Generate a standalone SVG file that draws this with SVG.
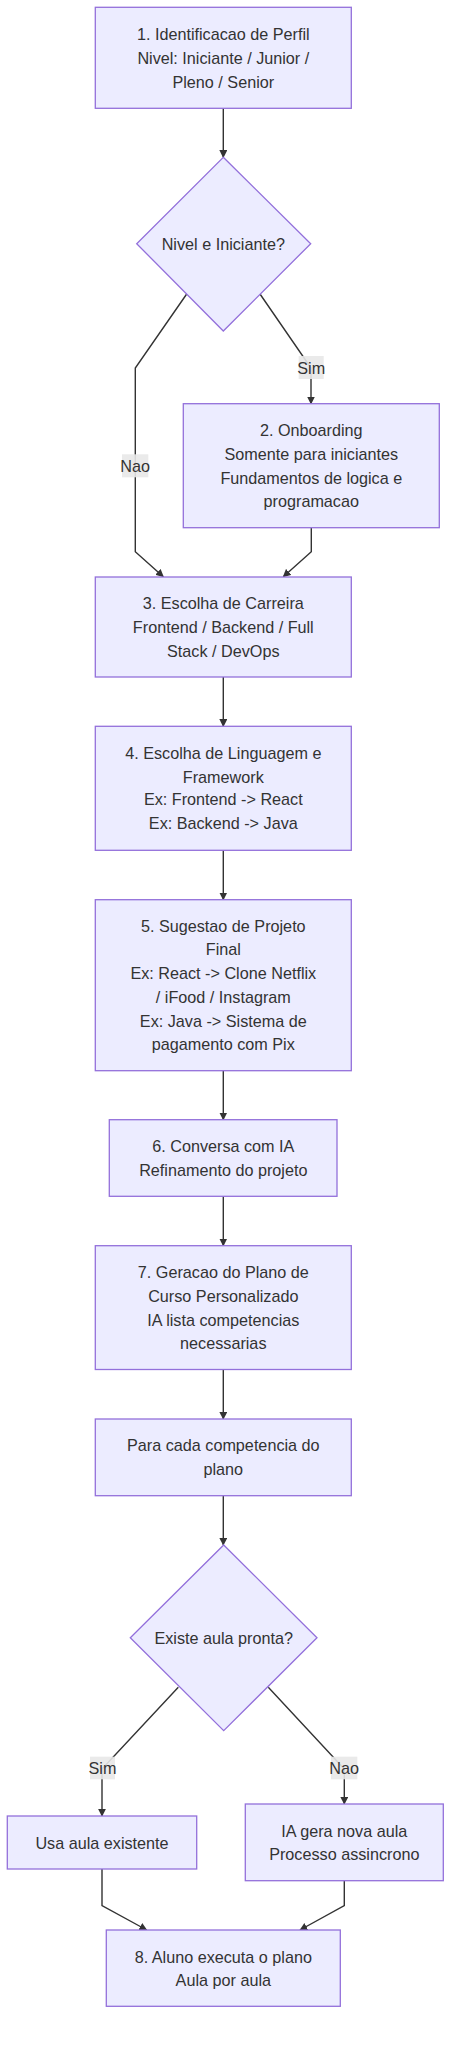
<svg xmlns="http://www.w3.org/2000/svg" width="459" height="2049" viewBox="0 0 459 2049">
<style>
.n{fill:#ECECFF;stroke:#9370DB;stroke-width:1.3}
.t{font-family:"Liberation Sans",Arial,sans-serif;font-size:16.2px;fill:#333;text-anchor:middle;dominant-baseline:central}
.e{fill:none;stroke:#333;stroke-width:1.4}
.lb{fill:#e8e8e8;opacity:0.9}
</style>
<defs>
<marker id="ah" viewBox="0 0 10 10" refX="9" refY="5" markerWidth="8" markerHeight="8" markerUnits="userSpaceOnUse" orient="auto">
<path d="M0,0 L10,5 L0,10 z" fill="#333"/>
</marker>
</defs>
<rect width="459" height="2049" fill="#fff"/>
<g id="connectors">
<path class="e" d="M223.3,108.3 V157.3" marker-end="url(#ah)"/>
<path class="e" d="M186.7,294 L135.3,368 V551.7 L163.3,576.7" marker-end="url(#ah)"/>
<path class="e" d="M260,294 L311,368 V403.7" marker-end="url(#ah)"/>
<path class="e" d="M311.3,527.7 V551.7 L283.3,576.7" marker-end="url(#ah)"/>
<path class="e" d="M223.3,677 V726.3" marker-end="url(#ah)"/>
<path class="e" d="M223.3,850.3 V899.7" marker-end="url(#ah)"/>
<path class="e" d="M223.3,1070.7 V1119.7" marker-end="url(#ah)"/>
<path class="e" d="M223.3,1196.3 V1245.7" marker-end="url(#ah)"/>
<path class="e" d="M223.3,1369.5 V1419" marker-end="url(#ah)"/>
<path class="e" d="M223.3,1495.7 V1545" marker-end="url(#ah)"/>
<path class="e" d="M178.3,1687.3 L102,1769 V1816" marker-end="url(#ah)"/>
<path class="e" d="M268.3,1687.3 L344.3,1769 V1804" marker-end="url(#ah)"/>
<path class="e" d="M102,1869 V1905.7 L146.7,1930" marker-end="url(#ah)"/>
<path class="e" d="M344.3,1880.7 V1905.7 L300,1930" marker-end="url(#ah)"/>
<g id="edge-labels">
<rect class="lb" x="298.7" y="356" width="25" height="23"/>
<text class="t" x="311.2" y="367.7">Sim</text>
<rect class="lb" x="122" y="454.3" width="26.3" height="23"/>
<text class="t" x="135.2" y="465.8">Nao</text>
<rect class="lb" x="90" y="1756.7" width="25" height="22.6"/>
<text class="t" x="102.5" y="1768">Sim</text>
<rect class="lb" x="331" y="1756.7" width="26.3" height="22.6"/>
<text class="t" x="344.2" y="1768">Nao</text>
</g>
</g>
<g id="n1">
<rect class="n" x="95.3" y="7.3" width="256" height="101"/>
<text class="t" x="223.3" y="33.5">1. Identificacao de Perfil</text>
<text class="t" x="223.3" y="57.5">Nivel: Iniciante / Junior /</text>
<text class="t" x="223.3" y="81.5">Pleno / Senior</text>
</g>
<g id="d1">
<polygon class="n" points="223.3,157.3 310.7,243.7 223.3,331 136.7,243.7"/>
<text class="t" x="223.3" y="243.7">Nivel e Iniciante?</text>
</g>
<g id="n2">
<rect class="n" x="183.3" y="403.7" width="256" height="124"/>
<text class="t" x="311.3" y="430">2. Onboarding</text>
<text class="t" x="311.3" y="453.7">Somente para iniciantes</text>
<text class="t" x="311.3" y="477.7">Fundamentos de logica e</text>
<text class="t" x="311.3" y="501">programacao</text>
</g>
<g id="n3">
<rect class="n" x="95.3" y="577" width="256" height="100"/>
<text class="t" x="223.3" y="603.3">3. Escolha de Carreira</text>
<text class="t" x="223.3" y="626.7">Frontend / Backend / Full</text>
<text class="t" x="223.3" y="650.7">Stack / DevOps</text>
</g>
<g id="n4">
<rect class="n" x="95.3" y="726.3" width="256" height="124"/>
<text class="t" x="223.3" y="752.7">4. Escolha de Linguagem e</text>
<text class="t" x="223.3" y="776.7">Framework</text>
<text class="t" x="223.3" y="799.3">Ex: Frontend -&gt; React</text>
<text class="t" x="223.3" y="823.3">Ex: Backend -&gt; Java</text>
</g>
<g id="n5">
<rect class="n" x="95.3" y="899.7" width="256" height="171"/>
<text class="t" x="223.3" y="925.7">5. Sugestao de Projeto</text>
<text class="t" x="223.3" y="949.3">Final</text>
<text class="t" x="223.3" y="972.7">Ex: React -&gt; Clone Netflix</text>
<text class="t" x="223.3" y="996.7">/ iFood / Instagram</text>
<text class="t" x="223.3" y="1020.7">Ex: Java -&gt; Sistema de</text>
<text class="t" x="223.3" y="1044">pagamento com Pix</text>
</g>
<g id="n6">
<rect class="n" x="109.3" y="1119.7" width="227.7" height="76.6"/>
<text class="t" x="223.3" y="1146">6. Conversa com IA</text>
<text class="t" x="223.3" y="1169.7">Refinamento do projeto</text>
</g>
<g id="n7">
<rect class="n" x="95.3" y="1245.7" width="256" height="123.8"/>
<text class="t" x="223.3" y="1271.7">7. Geracao do Plano de</text>
<text class="t" x="223.3" y="1295.7">Curso Personalizado</text>
<text class="t" x="223.3" y="1319.7">IA lista competencias</text>
<text class="t" x="223.3" y="1342.7">necessarias</text>
</g>
<g id="n_para">
<rect class="n" x="95.3" y="1419" width="256" height="76.7"/>
<text class="t" x="223.3" y="1445">Para cada competencia do</text>
<text class="t" x="223.3" y="1469">plano</text>
</g>
<g id="d2">
<polygon class="n" points="223.7,1545 317,1637.7 223.7,1730.7 130.3,1637.7"/>
<text class="t" x="223.7" y="1637.7">Existe aula pronta?</text>
</g>
<g id="n_usa">
<rect class="n" x="7.3" y="1816" width="189.4" height="53"/>
<text class="t" x="102" y="1842.7">Usa aula existente</text>
</g>
<g id="n_ia">
<rect class="n" x="245.3" y="1804" width="198" height="76.7"/>
<text class="t" x="344.3" y="1831">IA gera nova aula</text>
<text class="t" x="344.3" y="1853.7">Processo assincrono</text>
</g>
<g id="n8">
<rect class="n" x="106.3" y="1930" width="234" height="76.3"/>
<text class="t" x="223.3" y="1956.7">8. Aluno executa o plano</text>
<text class="t" x="223.3" y="1980">Aula por aula</text>
</g>
</svg>
